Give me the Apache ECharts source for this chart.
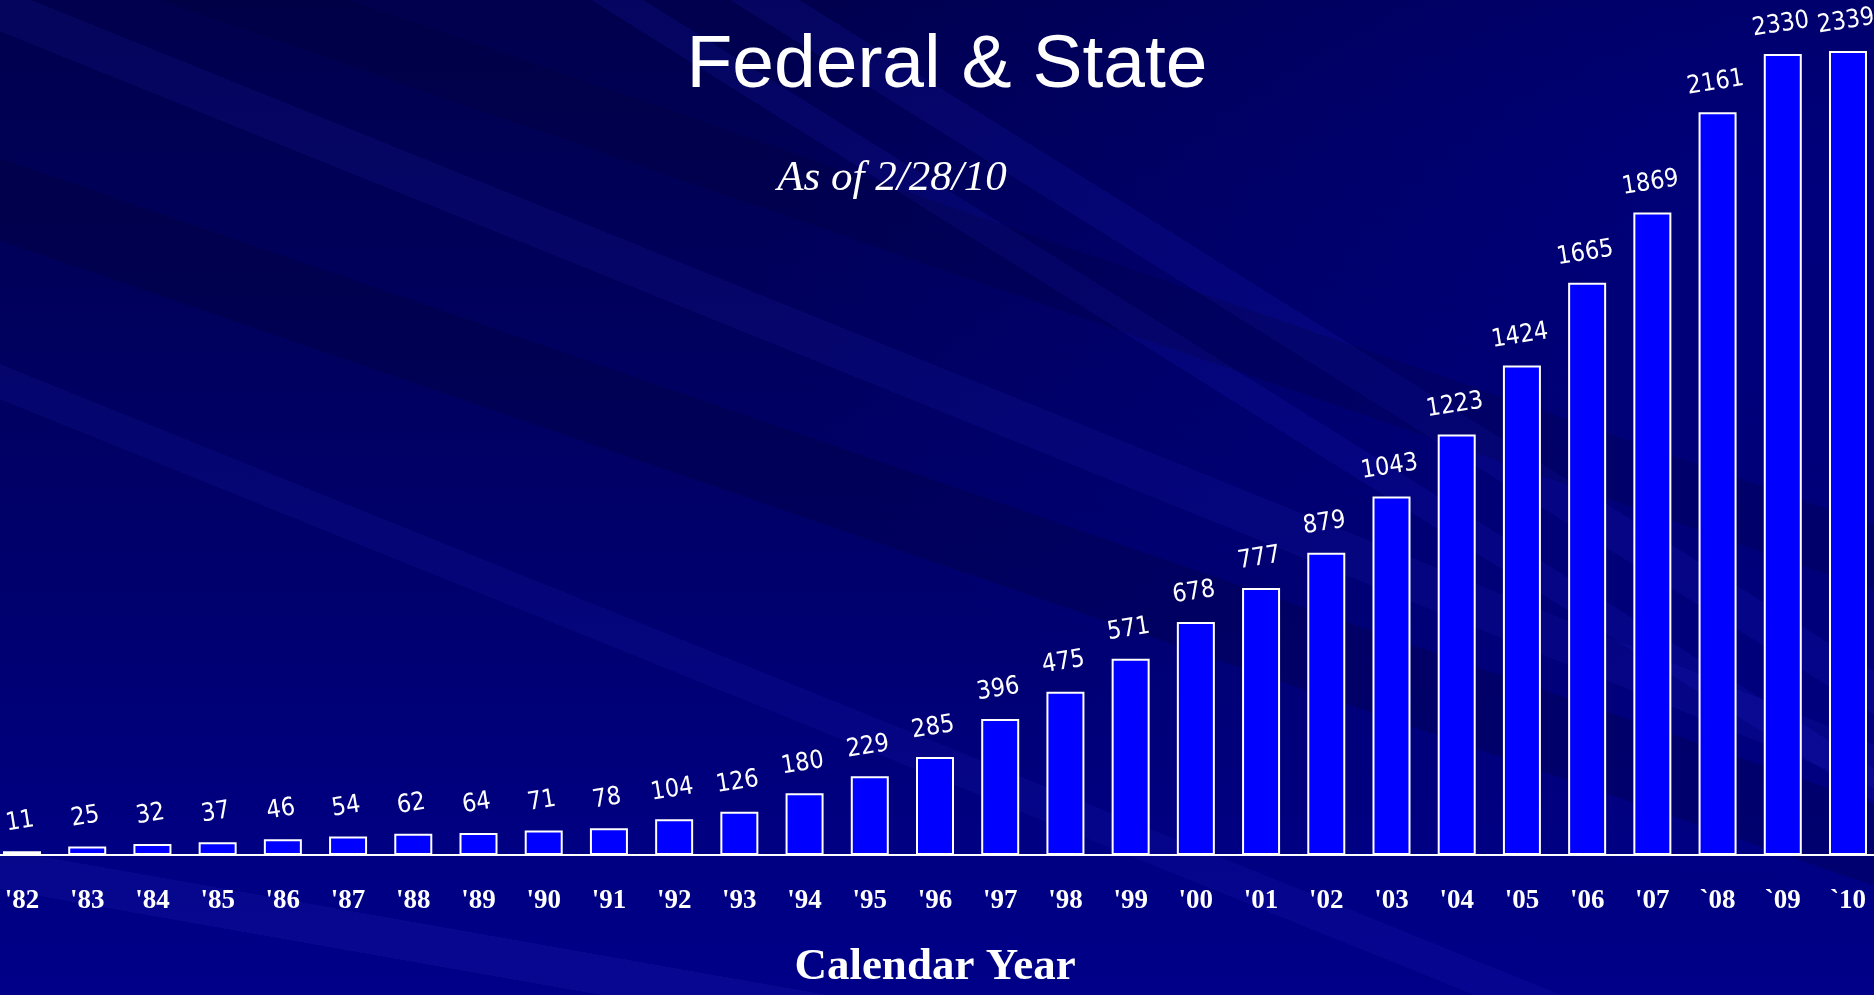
<!DOCTYPE html>
<html>
<head>
<meta charset="utf-8">
<title>Federal & State</title>
<script src="https://cdn.jsdelivr.net/npm/echarts@6/dist/echarts.min.js"></script>
<style>
html, body {
  margin: 0;
  padding: 0;
}
body {
  width: 1874px;
  height: 995px;
  overflow: hidden;
  /* dark navy slide background with faint diagonal streaks */
  background:
    linear-gradient(22deg, transparent 0 34%, rgba(50, 50, 220, 0.10) 34% 36%, transparent 36% 55%, rgba(50, 50, 220, 0.10) 55% 57.5%, transparent 57.5% 100%),
    linear-gradient(19deg, transparent 0 46%, rgba(0, 0, 40, 0.22) 46% 51%, transparent 51% 64%, rgba(0, 0, 40, 0.18) 64% 68%, transparent 68% 100%),
    linear-gradient(32deg, transparent 0 63%, rgba(40, 40, 230, 0.12) 63% 64.5%, transparent 64.5% 67%, rgba(40, 40, 230, 0.12) 67% 69%, transparent 69% 100%),
    linear-gradient(10deg, transparent 0 8%, rgba(70, 70, 230, 0.10) 8% 11%, transparent 11% 100%),
    radial-gradient(ellipse 60% 70% at 100% 20%, rgba(0, 0, 165, 0.5), transparent 100%),
    linear-gradient(to bottom, #00004e 0%, #00005c 30%, #00006e 60%, #000082 85%, #000088 100%);
}
#chart {
  width: 1874px;
  height: 995px;
}
</style>
</head>
<body>
<div id="chart"></div>
<script>
const years = ["'82", "'83", "'84", "'85", "'86", "'87", "'88", "'89", "'90", "'91",
  "'92", "'93", "'94", "'95", "'96", "'97", "'98", "'99", "'00", "'01",
  "'02", "'03", "'04", "'05", "'06", "'07", "`08", "`09", "`10"];
const totals = [11, 25, 32, 37, 46, 54, 62, 64, 71, 78,
  104, 126, 180, 229, 285, 396, 475, 571, 678, 777,
  879, 1043, 1223, 1424, 1665, 1869, 2161, 2330, 2339];

const chart = echarts.init(document.getElementById('chart'));

const option = {
  backgroundColor: 'transparent',
  animation: false,
  title: [
    {
      text: 'Federal & State',
      left: 942,
      top: 24,
      textAlign: 'center',
      textStyle: {
        color: '#ffffff',
        fontFamily: '"Liberation Sans", Arial, sans-serif',
        fontWeight: 'normal',
        fontSize: 75,
        textShadowColor: '#000018',
        textShadowOffsetX: 3,
        textShadowOffsetY: 3,
        textShadowBlur: 0
      }
    },
    {
      text: 'As of 2/28/10',
      left: 887,
      top: 152,
      textAlign: 'center',
      textStyle: {
        color: '#ffffff',
        fontFamily: '"Liberation Serif", "Times New Roman", serif',
        fontStyle: 'italic',
        fontWeight: 'normal',
        fontSize: 43,
        textShadowColor: '#000018',
        textShadowOffsetX: 2,
        textShadowOffsetY: 2,
        textShadowBlur: 0
      }
    }
  ],
  // grid runs a little past the page edges so the first and last bars get cut off
  grid: {
    left: -10.6,
    right: -6.6,
    top: 30,
    bottom: 140,
    outerBoundsMode: 'none'
  },
  xAxis: {
    type: 'category',
    data: years,
    boundaryGap: true,
    axisLine: {
      lineStyle: { color: '#ffffff', width: 2 }
    },
    axisTick: {
      alignWithLabel: true,
      length: 10,
      lineStyle: { color: '#ffffff', width: 2 }
    },
    axisLabel: {
      color: '#ffffff',
      fontFamily: '"Liberation Serif", "Times New Roman", serif',
      fontWeight: 'bold',
      fontSize: 27,
      margin: 33,
      interval: 0
    },
    name: 'Calendar Year',
    nameLocation: 'middle',
    nameGap: 90,
    nameTextStyle: {
      color: '#ffffff',
      fontFamily: '"Liberation Serif", "Times New Roman", serif',
      fontWeight: 'bold',
      fontSize: 45
    }
  },
  yAxis: {
    type: 'value',
    min: 0,
    max: 2400,
    show: false,
    splitLine: { show: false }
  },
  series: [{
    type: 'bar',
    data: totals,
    barWidth: 38,
    clip: false,
    itemStyle: {
      color: '#0000ff',
      borderColor: '#ffffff',
      borderWidth: 2
    },
    label: {
      show: true,
      position: 'top',
      distance: 17,
      rotate: 9,
      color: '#ffffff',
      fontFamily: '"DejaVu Sans Condensed", "Liberation Sans", sans-serif',
      fontSize: 25
    }
  }]
};

chart.setOption(option);
</script>
</body>
</html>
